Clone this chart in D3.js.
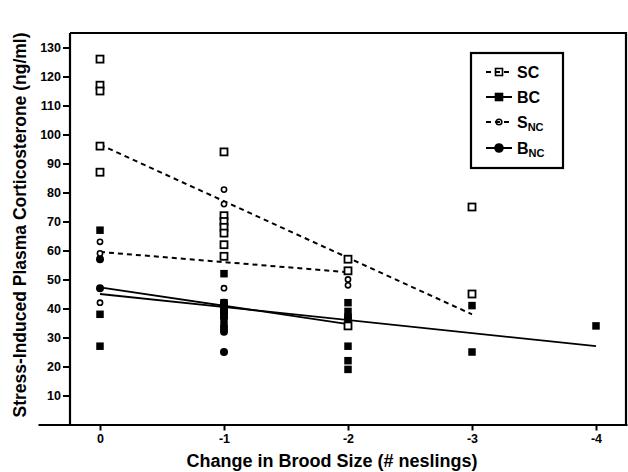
<!DOCTYPE html>
<html>
<head>
<meta charset="utf-8">
<script src="https://cdn.jsdelivr.net/npm/d3@7"></script>
<style>
  body { margin: 0; background: #fff; }
  svg text { font-family: "Liberation Sans", Arial, sans-serif; font-weight: bold; }
</style>
</head>
<body>
<div id="chart"></div>
<script>
'use strict';

// Data: [change in brood size, corticosterone]
var scData = [[0,126],[0,117],[0,115],[0,96],[0,87],
    [-1,94],[-1,72],[-1,70],[-1,68],[-1,66],[-1,62],[-1,58],
    [-2,57],[-2,53],[-2,34],
    [-3,75],[-3,45]];
var bcData = [[0,67],[0,38],[0,27],
    [-1,58],[-1,52],[-1,42],[-1,39],[-1,36],
    [-2,42],[-2,39],[-2,37],[-2,27],[-2,22],[-2,19],
    [-3,41],[-3,25],
    [-4,34]];
var sncData = [[0,63],[0,59],[0,42],
    [-1,81],[-1,76],[-1,47],
    [-2,50],[-2,48]];
var bncData = [[0,57],[0,47],
    [-1,42],[-1,41],[-1,40],[-1,39],[-1,38],[-1,37],[-1,34],[-1,33],[-1,32],[-1,25],
    [-2,37],[-2,35]];

// regression line end points
var scFit = [[0,96.5],[-3,38]];
var sncFit = [[0,59.5],[-2,52.5]];
var bcFit = [[0,45],[-4,27]];
var bncFit = [[0,47.3],[-2,34.6]];

var xTicks = [0,-1,-2,-3,-4];
var yTicks = [10,20,30,40,50,60,70,80,90,100,110,120,130];

var width = 628, height = 472;

var svg = d3.select("#chart").append("svg")
    .attr("width", width)
    .attr("height", height);

var x = d3.scaleLinear().domain([0.5, -4.25]).range([38, 627]);
var y = d3.scaleLinear().domain([0, 135]).range([424.5, 33]);
var yAxisX = 70;

// X axis
var xAxis = svg.append("g")
    .attr("transform", "translate(0," + y(0) + ")")
    .call(d3.axisBottom(x).tickValues(xTicks).tickSize(6).tickSizeOuter(0)
        .tickFormat(function(d) { return String(d); }));
xAxis.select(".domain").attr("stroke-width", 2.2);
xAxis.selectAll(".tick line").attr("stroke-width", 2);
xAxis.selectAll(".tick text")
    .attr("font-size", 12.5)
    .attr("y", 10)
    .attr("fill", "#000");

// Y axis
var yAxis = svg.append("g")
    .attr("transform", "translate(" + yAxisX + ",0)")
    .call(d3.axisLeft(y).tickValues(yTicks).tickSize(7).tickSizeOuter(0));
yAxis.select(".domain").attr("d", "M0," + y(135) + "V" + y(0)).attr("stroke-width", 2.2);
yAxis.selectAll(".tick line").attr("stroke-width", 2);
yAxis.selectAll(".tick text")
    .attr("font-size", 12.5)
    .attr("x", -9)
    .attr("fill", "#000");

// frame top and right
svg.append("path")
    .attr("d", "M" + yAxisX + "," + y(135) + "H626V" + y(0))
    .attr("fill", "none")
    .attr("stroke", "#000")
    .attr("stroke-width", 2.2);

// axis titles
svg.append("text")
    .attr("x", 332)
    .attr("y", 467)
    .attr("text-anchor", "middle")
    .attr("font-size", 18)
    .text("Change in Brood Size (# neslings)");

svg.append("text")
    .attr("transform", "translate(26,225) rotate(-90)")
    .attr("text-anchor", "middle")
    .attr("font-size", 17.5)
    .text("Stress-Induced Plasma Corticosterone (ng/ml)");

// fit lines
var line = d3.line()
    .x(function(d) { return x(d[0]); })
    .y(function(d) { return y(d[1]); });

function addFit(data, dashed) {
    svg.append("path")
        .attr("d", line(data))
        .attr("fill", "none")
        .attr("stroke", "#000")
        .attr("stroke-width", dashed ? 2 : 1.8)
        .attr("stroke-dasharray", dashed ? "5,4" : null);
}
addFit(scFit, true);
addFit(sncFit, true);
addFit(bcFit, false);
addFit(bncFit, false);

// markers
function squares(data, filled) {
    var s = filled ? 7.5 : 7;
    svg.append("g").selectAll("rect")
        .data(data)
      .enter().append("rect")
        .attr("x", function(d) { return x(d[0]) - s / 2; })
        .attr("y", function(d) { return y(d[1]) - s / 2; })
        .attr("width", s)
        .attr("height", s)
        .attr("fill", filled ? "#000" : "#fff")
        .attr("stroke", filled ? "none" : "#000")
        .attr("stroke-width", 1.8);
}
function circles(data, filled) {
    svg.append("g").selectAll("circle")
        .data(data)
      .enter().append("circle")
        .attr("cx", function(d) { return x(d[0]); })
        .attr("cy", function(d) { return y(d[1]); })
        .attr("r", filled ? 4 : 2.6)
        .attr("fill", filled ? "#000" : "#fff")
        .attr("stroke", filled ? "none" : "#000")
        .attr("stroke-width", 1.6);
}
squares(bcData, true);
circles(bncData, true);
squares(scData, false);
circles(sncData, false);

// Legend
var legend = svg.append("g");
legend.append("rect")
    .attr("x", 471).attr("y", 53)
    .attr("width", 92).attr("height", 115)
    .attr("fill", "#fff")
    .attr("stroke", "#000")
    .attr("stroke-width", 2.2);

var legendItems = [
    {name: "S", sub: "C", dashed: true, shape: "square", filled: false, y: 72},
    {name: "B", sub: "C", dashed: false, shape: "square", filled: true, y: 97},
    {name: "S", sub: "NC", dashed: true, shape: "circle", filled: false, y: 122},
    {name: "B", sub: "NC", dashed: false, shape: "circle", filled: true, y: 148}
];

legendItems.forEach(function(it) {
    var cx = 499;
    legend.append("line")
        .attr("x1", 486).attr("x2", 512)
        .attr("y1", it.y).attr("y2", it.y)
        .attr("stroke", "#000")
        .attr("stroke-width", 2)
        .attr("stroke-dasharray", it.dashed ? "5,4" : null);
    if (it.shape === "square") {
        var s = 7;
        legend.append("rect")
            .attr("x", cx - s / 2).attr("y", it.y - s / 2)
            .attr("width", s).attr("height", s)
            .attr("fill", it.filled ? "#000" : "none")
            .attr("stroke", "#000").attr("stroke-width", 1.6);
    } else {
        legend.append("circle")
            .attr("cx", cx).attr("cy", it.y)
            .attr("r", it.filled ? 4 : 2.8)
            .attr("fill", it.filled ? "#000" : "none")
            .attr("stroke", "#000").attr("stroke-width", 1.6);
    }
    var t = legend.append("text")
        .attr("x", 517)
        .attr("y", it.y + 6)
        .attr("font-size", 16);
    if (it.sub === "C") {
        t.text(it.name + it.sub);
    } else {
        t.append("tspan").text(it.name);
        t.append("tspan").attr("font-size", 11).attr("dy", 3).text(it.sub);
    }
});
</script>
</body>
</html>
